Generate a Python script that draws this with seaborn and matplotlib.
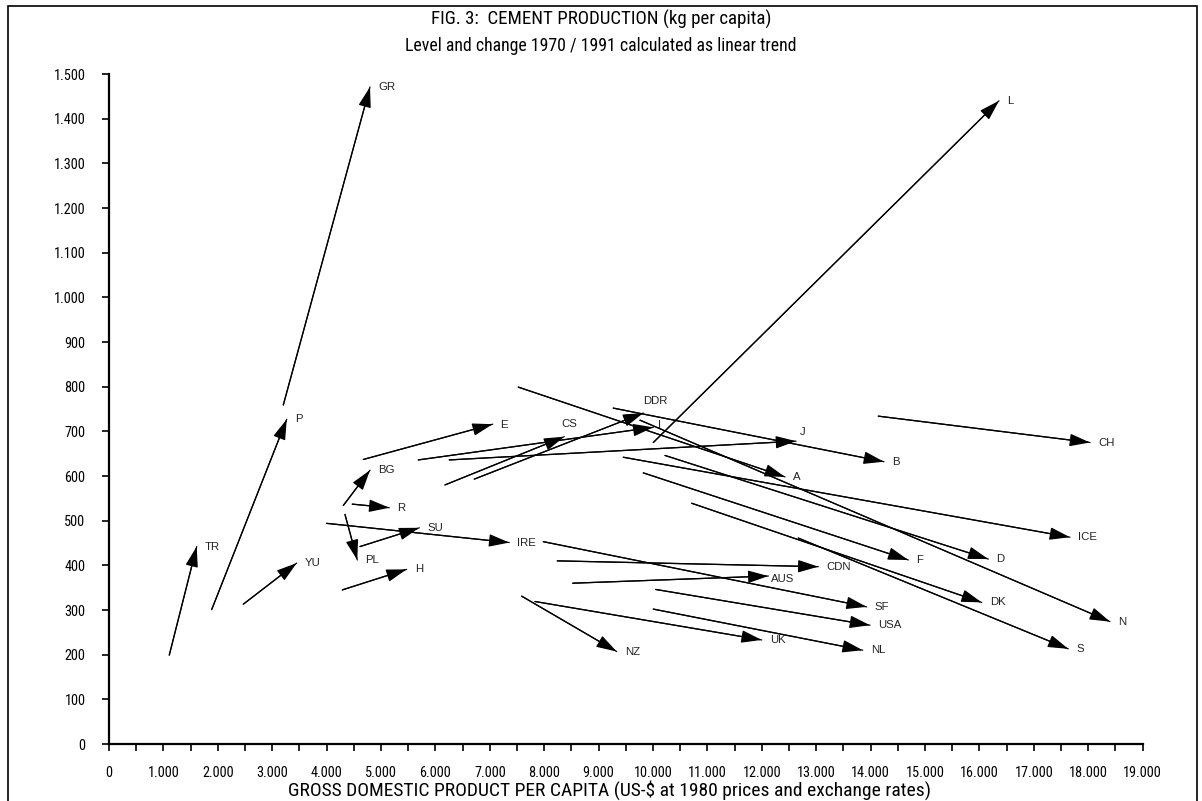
import os
import matplotlib
matplotlib.use("Agg")
import matplotlib.pyplot as plt
from matplotlib.patches import Rectangle
from matplotlib.ticker import FixedLocator, FuncFormatter
from matplotlib.font_manager import FontProperties
from matplotlib.textpath import TextPath
from matplotlib import font_manager
import seaborn as sns
import pandas as pd

# ---------------- data ----------------
countries = ["TR", "P", "GR", "YU", "BG", "R", "PL", "SU", "H", "IRE", "E",
             "CS", "DDR", "I", "J", "L", "A", "N", "B", "CH", "ICE", "D",
             "F", "DK", "S", "CDN", "AUS", "SF", "USA", "NL", "UK", "NZ"]
gdp_1970 = [1108, 1888, 3204, 2469, 4307, 4472, 4338, 4614, 4289, 4002, 4675,
            6176, 6715, 5686, 6256, 10006, 7524, 9761, 9270, 14142, 9454, 10221,
            9822, 10711, 12671, 8241, 8524, 7983, 10050, 10006, 7831, 7586]
cement_1970 = [199, 301, 759, 313, 534, 537, 514, 442, 345, 494, 637,
               580, 593, 636, 636, 675, 799, 725, 752, 734, 642, 646,
               607, 539, 461, 410, 360, 453, 346, 302, 319, 331]
gdp_1991 = [1612, 3267, 4798, 3450, 4798, 5153, 4564, 5704, 5472, 7358, 7053,
            8369, 9822, 10006, 12629, 16360, 12426, 18401, 14246, 18033, 17665, 16164,
            14693, 16042, 17634, 13039, 12120, 13928, 13989, 13855, 11998, 9332]
cement_1991 = [442, 727, 1471, 405, 613, 529, 412, 484, 391, 451, 716,
               688, 741, 709, 678, 1440, 598, 274, 632, 675, 463, 414,
               412, 317, 213, 397, 376, 307, 266, 210, 233, 207]

x_ticks = list(range(0, 19001, 1000))
y_ticks = list(range(0, 1501, 100))

title = "FIG. 3:  CEMENT PRODUCTION (kg per capita)"
subtitle = "Level and change 1970 / 1991 calculated as linear trend"
x_label = "GROSS DOMESTIC PRODUCT PER CAPITA (US-$ at 1980 prices and exchange rates)"

# label nudges (pixels, relative to default placement)
label_nudge = {"CS": (-11, 13), "DDR": (-8, 12), "J": (-4, 9), "AUS": (-5, -3),
               "I": (-3, 2), "E": (-1, -1)}

# ---------------- fonts ----------------
sns.set_theme(style="white")
plt.rcParams["font.family"] = ["Liberation Sans", "DejaVu Sans"]


def find_narrow():
    bad = ("bold", "italic", "light", "thin", "black", "medium", "oblique",
           "extra", "semibold", "heavy")
    prefs = ["liberation", "arial", "roboto", "opensans", "open", "noto", "lato", "dejavu"]
    found = []
    for f in font_manager.fontManager.ttflist:
        base = os.path.basename(f.fname).lower()
        if ("narrow" in base or "condensed" in base) and not any(b in base for b in bad):
            rank = next((i for i, p in enumerate(prefs) if p in base.replace("-", "").replace("_", "")), 99)
            if "semicondensed" in base:
                rank += 0.5
            found.append((rank, f.fname))
    if found:
        found.sort()
        return FontProperties(fname=found[0][1])
    return None


narrow_fp = find_narrow()
if narrow_fp is None:
    narrow_fp = FontProperties(family=["Liberation Sans", "DejaVu Sans"])


def fit(text, fp, target_px, maxsize=14.0):
    w = TextPath((0, 0), text, size=10, prop=fp).get_extents().width * 100 / 72
    return min(maxsize, 10 * target_px / w) if w > 0 else 10


W, H = 1202, 801
fig = plt.figure(figsize=(W / 100, H / 100), dpi=100)
fig.patch.set_facecolor("white")

x0_px, x19_px = 109, 1142.6
y0_px, y15_px = 744, 74
ax = fig.add_axes([x0_px / W, (H - y0_px) / H, (x19_px - x0_px) / W, (y0_px - y15_px) / H])
ax.set_facecolor("white")

# segments through seaborn
rows = []
for c, xa, ya, xb, yb in zip(countries, gdp_1970, cement_1970, gdp_1991, cement_1991):
    rows.append({"country": c, "gdp": xa, "cement": ya, "year": 1970})
    rows.append({"country": c, "gdp": xb, "cement": yb, "year": 1991})
df = pd.DataFrame(rows)
sns.lineplot(data=df, x="gdp", y="cement", units="country", estimator=None,
             sort=False, color="black", lw=0.9, ax=ax, legend=False)

# arrow heads + labels
for c, xa, ya, xb, yb in zip(countries, gdp_1970, cement_1970, gdp_1991, cement_1991):
    ax.annotate("", xy=(xb, yb), xytext=(xa, ya),
                arrowprops=dict(arrowstyle="-|>,head_length=0.42,head_width=0.13",
                                mutation_scale=30, color="black", lw=0.9,
                                shrinkA=0, shrinkB=0),
                annotation_clip=False)
    dx, dy = label_nudge.get(c, (0, 0))
    ax.annotate(c, xy=(xb, yb), xytext=((8 + dx) * 0.72, dy * 0.72),
                textcoords="offset points", ha="left", va="center",
                fontsize=8.2, color="#222222",
                family=["Liberation Sans", "DejaVu Sans"], annotation_clip=False)

ax.set_xlim(0, 19000)
ax.set_ylim(0, 1500)
ax.xaxis.set_major_locator(FixedLocator(x_ticks))
ax.xaxis.set_minor_locator(FixedLocator([v + 500 for v in x_ticks[:-1]]))
ax.yaxis.set_major_locator(FixedLocator(y_ticks))


def dotted(v, pos):
    return f"{int(v):,}".replace(",", ".")


ax.xaxis.set_major_formatter(FuncFormatter(dotted))
ax.yaxis.set_major_formatter(FuncFormatter(dotted))
ax.tick_params(axis="both", which="both", direction="out", length=5, width=1.2,
               colors="black", bottom=True, left=True)
ax.tick_params(axis="x", which="major", pad=11)
ax.tick_params(axis="y", which="major", pad=12)

tick_size = fit("19.000", narrow_fp, 37)
for lbl in ax.get_xticklabels() + ax.get_yticklabels():
    lbl.set_fontproperties(narrow_fp)
    lbl.set_fontsize(tick_size)

for s in ["top", "right"]:
    ax.spines[s].set_visible(False)
for s in ["left", "bottom"]:
    ax.spines[s].set_color("black")
    ax.spines[s].set_linewidth(1.6)
ax.grid(False)
ax.set_xlabel("")
ax.set_ylabel("")

fig.text(610 / W, 1 - 790 / H, x_label, ha="center", va="center",
         fontproperties=narrow_fp, fontsize=fit(x_label, narrow_fp, 696), color="black")
fig.text(0.5, 1 - 19 / H, title, ha="center", va="center",
         fontproperties=narrow_fp, fontsize=fit(title, narrow_fp, 338), color="black")
fig.text(0.5, 1 - 46 / H, subtitle, ha="center", va="center",
         fontproperties=narrow_fp, fontsize=fit(subtitle, narrow_fp, 390), color="black")

fig.patches.append(Rectangle((8 / W, -0.02), (1197 - 8) / W, (H - 6) / H + 0.02,
                             transform=fig.transFigure, fill=False, lw=1.2,
                             ec="black", zorder=10))

fig.savefig("out.png", dpi=100, facecolor="white")
